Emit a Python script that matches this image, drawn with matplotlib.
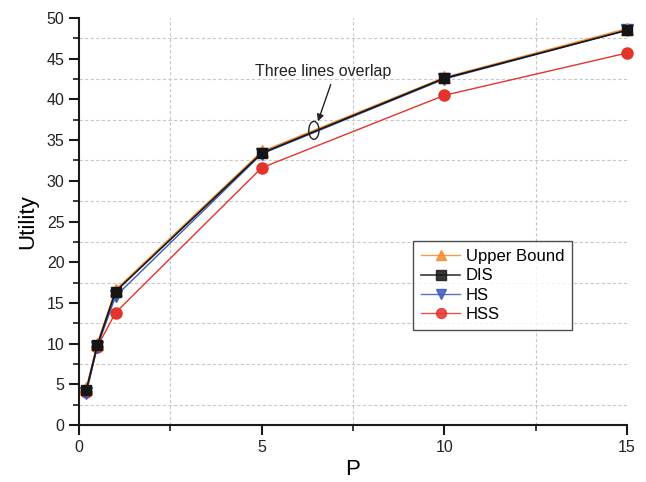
import matplotlib
matplotlib.use("Agg")
import matplotlib.pyplot as plt
from matplotlib.patches import Ellipse
from matplotlib.ticker import MultipleLocator

plt.rcParams['font.family'] = ['Liberation Sans', 'DejaVu Sans']

P = [0.2, 0.5, 1, 5, 10, 15]
upper_bound = [4.5, 10.0, 16.6, 33.6, 42.7, 48.7]
dis = [4.3, 9.8, 16.4, 33.4, 42.6, 48.5]
hs = [3.9, 9.6, 15.8, 33.3, 42.5, 48.5]
hss = [4.1, 9.6, 13.8, 31.6, 40.5, 45.7]

fig = plt.figure(figsize=(6.46, 4.82), dpi=100)
ax = fig.add_axes([79/646, 57/482, 548/646, 407/482])

l_hss, = ax.plot(P, hss, color='#e3342b', lw=1.0, marker='o', ms=8, label='HSS', clip_on=False, zorder=3)
l_hs, = ax.plot(P, hs, color='#3a5bbd', lw=1.0, marker='v', ms=8, label='HS', clip_on=False, zorder=4)
l_ub, = ax.plot(P, upper_bound, color='#f58a2a', lw=1.0, marker='^', ms=8, label='Upper Bound', clip_on=False, zorder=5)
l_dis, = ax.plot(P, dis, color='#151515', lw=1.2, marker='s', ms=7.5, label='DIS', clip_on=False, zorder=6)

ax.set_xlim(0, 15)
ax.set_ylim(0, 50)
ax.xaxis.set_major_locator(MultipleLocator(5))
ax.xaxis.set_minor_locator(MultipleLocator(2.5))
ax.yaxis.set_major_locator(MultipleLocator(5))
ax.yaxis.set_minor_locator(MultipleLocator(2.5))
ax.grid(which='minor', color='#c8c8c8', linestyle=(0, (3, 2)), lw=0.8)
ax.grid(which='major', visible=False)
ax.set_axisbelow(True)

for s in ['top', 'right']:
    ax.spines[s].set_visible(False)
for s in ['left', 'bottom']:
    ax.spines[s].set_linewidth(1.5)
    ax.spines[s].set_color('#1a1a1a')

ax.tick_params(which='major', direction='out', length=7, width=1.5, labelsize=11.5, colors='#1a1a1a')
ax.tick_params(which='minor', direction='out', length=4, width=1.2, colors='#1a1a1a')
ax.tick_params(axis='both', labelcolor='#222222')

ax.set_xlabel('P', fontsize=16, labelpad=3)
ax.set_ylabel('Utility', fontsize=16, labelpad=6)

ell = Ellipse((6.43, 36.2), 0.28, 2.2, fill=False, edgecolor='#222222', lw=1.0, zorder=7)
ax.add_patch(ell)
ax.annotate('Three lines overlap', xy=(6.54, 37.3), xytext=(6.68, 43.4),
            fontsize=11.5, ha='center', va='center', color='#222222',
            arrowprops=dict(arrowstyle='-|>', color='#222222', lw=1.0, mutation_scale=10,
                            shrinkA=2, shrinkB=0, relpos=(0.57, 0.0)))

leg = ax.legend(handles=[l_ub, l_dis, l_hs, l_hss], loc='upper left',
                bbox_to_anchor=((413-79)/548, (425-241)/407), fontsize=12,
                frameon=True, fancybox=False, edgecolor='#222222', borderpad=0.5,
                handlelength=2.3, labelspacing=0.25, handletextpad=0.35, markerscale=0.9,
                borderaxespad=0)
leg.get_frame().set_linewidth(1.0)
for h in leg.legend_handles:
    h.set_alpha(0.85)

fig.savefig('out.png', dpi=100)
